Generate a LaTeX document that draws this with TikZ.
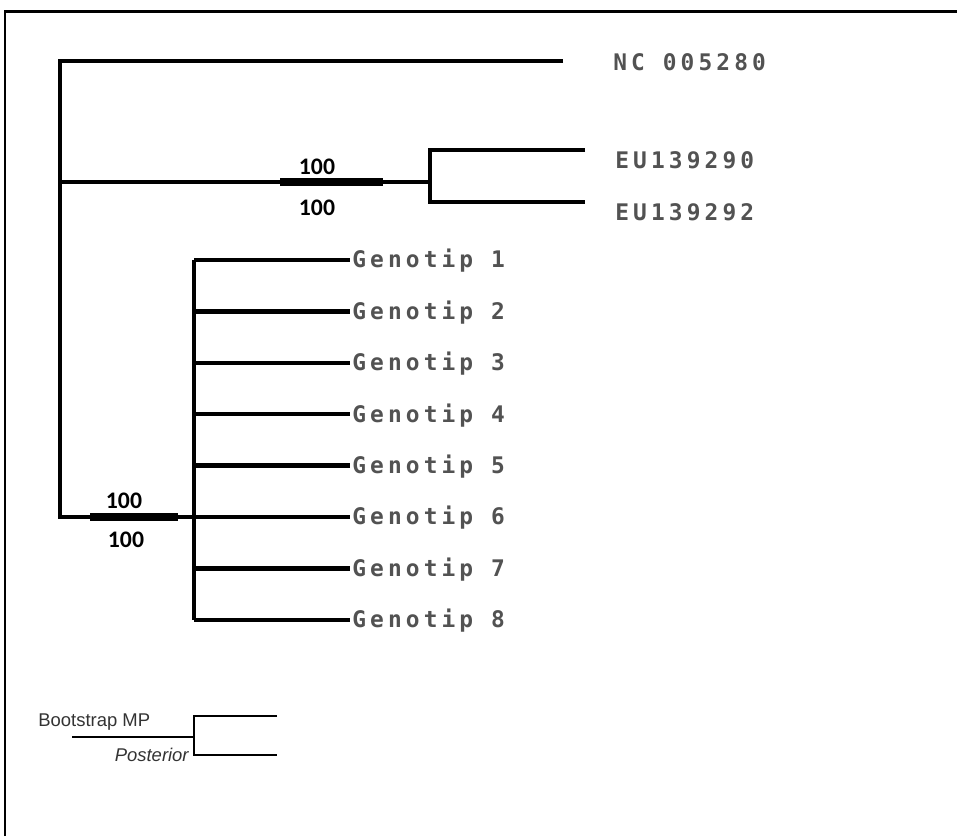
\documentclass[tikz,border=0pt]{standalone}
\usepackage{fontspec}
\setmainfont{Liberation Sans}
\newfontfamily\tipfont[LetterSpace=18]{DejaVu Sans Mono}
\newfontfamily\supportfont{Carlito}

\begin{document}
\begin{tikzpicture}[
    x=0.02cm, y=-0.02cm,
    % Define the style for the branches of the tree
    treeEdge/.style={
        draw=black,
        line width=2.5pt,
        line join=miter
    },
    % Define the style for the thick, well supported part of a branch
    supportBar/.style={
        draw=black,
        line width=4.8pt
    },
    % Define the style for the taxon names at the tips
    tipLabel/.style={
        anchor=west,
        inner sep=0pt,
        text=black!68,
        font=\tipfont\bfseries\fontsize{13}{15}\selectfont
    },
    % Define the style for the support values
    supLabel/.style={
        inner sep=0pt,
        font=\supportfont\bfseries\fontsize{13.5}{15}\selectfont
    },
    % Define the style for the little key at the bottom
    keyEdge/.style={
        draw=black,
        line width=0.8pt
    },
    keyLabel/.style={
        inner sep=0pt,
        text=black!80,
        font=\fontsize{10.5}{12}\selectfont
    }
]

    \useasboundingbox (0,0) rectangle (957,836);

    % --- FRAME ---
    \draw[line width=1.5pt] (5,836) -- (5,11.5) -- (957,11.5);

    % --- COORDINATE DEFINITIONS ---
    % Spacing of the Genotip tips
    \def\tipGap{51.4}

    % Inner branching points
    \coordinate (rootTop) at (60,61);
    \coordinate (rootMid) at (60,182);
    \coordinate (rootBot) at (60,517);
    \coordinate (euFork) at (430,182);
    \coordinate (genoFork) at (194,517);

    % Free ends of the tip branches
    \coordinate (endNC) at (563,61);
    \coordinate (endEU90) at (585,150);
    \coordinate (endEU92) at (585,202);
    \foreach \i in {1,...,8} {
        \coordinate (endG\i) at (350,{260+(\i-1)*\tipGap});
    }

    % Ends of the thick support bars
    \coordinate (barEUa) at (280,182);
    \coordinate (barEUb) at (383,182);
    \coordinate (barGa) at (90,517);
    \coordinate (barGb) at (178,517);

    % --- NODES ---
    \node[tipLabel] (NC) at (613,62) {NC 005280};
    \node[tipLabel] (EU90) at (615,160) {EU139290};
    \node[tipLabel] (EU92) at (615,212) {EU139292};
    \foreach \i in {1,...,8} {
        \node[tipLabel] (G\i) at (352,{261+(\i-1)*\tipGap}) {Genotip \i};
    }

    % Support values (bootstrap above, posterior below)
    \node[supLabel] (bsEU) at (317,167) {100};
    \node[supLabel] (ppEU) at (317,208) {100};
    \node[supLabel] (bsG) at (124,501) {100};
    \node[supLabel] (ppG) at (126,540) {100};

    % --- EDGES ---
    % Backbone with the NC branch and the stem of the Genotip clade
    \draw[treeEdge] (endNC) -- (rootTop) -- (rootBot) -- (genoFork);

    % EU clade
    \draw[treeEdge] (rootMid) -- (euFork);
    \draw[treeEdge] (endEU90) -| (euFork) |- (endEU92);

    % Genotip clade
    \draw[treeEdge] (genoFork |- endG1) -- (genoFork |- endG8);
    \foreach \i in {1,...,8} {
        \draw[treeEdge] (genoFork |- endG\i) -- (endG\i);
    }

    % Thick bars
    \draw[supportBar] (barEUa) -- (barEUb);
    \draw[supportBar] (barGa) -- (barGb);

    % --- KEY ---
    \coordinate (keyRoot) at (72,737);
    \coordinate (keyFork) at (194,737);
    \coordinate (keyTop) at (277,716);
    \coordinate (keyBot) at (277,755);
    \draw[keyEdge] (keyRoot) -- (keyFork);
    \draw[keyEdge] (keyTop) -| (keyFork) |- (keyBot);
    \node[keyLabel, anchor=base west] (keyBoot) at (38,726) {Bootstrap MP};
    \node[keyLabel, anchor=base east] (keyPost) at (189,761) {\itshape Posterior};

\end{tikzpicture}
\end{document}
